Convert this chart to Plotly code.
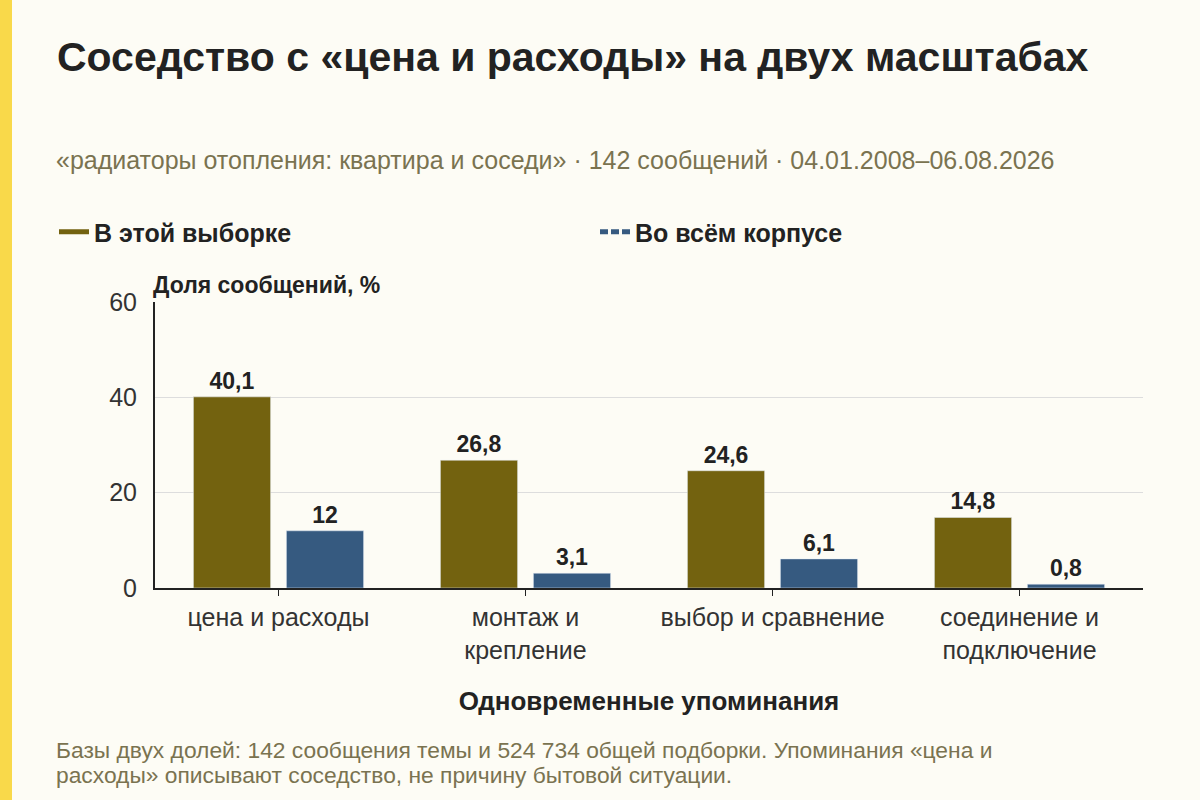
import plotly.graph_objects as go

# Data
categories = ["цена и расходы", "монтаж и<br>крепление", "выбор и сравнение", "соединение и<br>подключение"]
sample_share = [40.1, 26.8, 24.6, 14.8]
corpus_share = [12, 3.1, 6.1, 0.8]
y_ticks = [0, 20, 40, 60]

GOLD = "#73620f"
BLUE = "#365a80"
BG = "#fdfcf5"
INK = "#222222"
MUTED = "#7a7350"
FONT = "Liberation Sans, Arial, sans-serif"

W, H = 1200, 800
ML, MR, MT, MB = 155, 57, 302, 212
PW = W - ML - MR
PH = H - MT - MB


def px_x(px):
    # container pixel -> paper x
    return (px - ML) / PW


def px_y(py):
    # container pixel (from top) -> paper y
    return (H - MB - py) / PH


def fmt(v):
    return f"{v:g}".replace(".", ",")


fig = go.Figure()

fig.add_trace(go.Bar(
    x=categories, y=sample_share, name="В этой выборке",
    marker_color=GOLD, showlegend=False,
    text=[fmt(v) for v in sample_share], textposition="outside",
    textfont=dict(size=23, color=INK, family=FONT, weight="bold"),
    cliponaxis=False,
))
fig.add_trace(go.Bar(
    x=categories, y=corpus_share, name="Во всём корпусе",
    marker_color=BLUE, showlegend=False,
    text=[fmt(v) for v in corpus_share], textposition="outside",
    textfont=dict(size=23, color=INK, family=FONT, weight="bold"),
    cliponaxis=False,
))

# legend entries drawn as short lines
fig.add_trace(go.Scatter(x=[None], y=[None], mode="lines", name="В этой выборке",
                         line=dict(color=GOLD, width=5)))
fig.add_trace(go.Scatter(x=[None], y=[None], mode="lines", name="Во всём корпусе",
                         line=dict(color=BLUE, width=5, dash="8px,3px")))

fig.update_layout(
    width=W, height=H,
    margin=dict(l=ML, r=MR, t=MT, b=MB),
    paper_bgcolor=BG, plot_bgcolor=BG,
    font=dict(family=FONT, color=INK),
    barmode="group", bargap=0.247, bargroupgap=0.17,
    title=dict(
        text="<b>Соседство с «цена и расходы» на двух масштабах</b>",
        x=57 / W, xanchor="left", xref="container",
        y=1 - 57 / H, yanchor="middle", yref="container",
        font=dict(size=41, color=INK, family=FONT),
    ),
    legend=dict(
        orientation="h", x=px_x(54), xanchor="left",
        y=px_y(232), yanchor="middle",
        font=dict(size=25, color=INK, family=FONT, weight="bold"),
        entrywidth=496, bgcolor="rgba(0,0,0,0)",
    ),
    showlegend=True,
)

fig.update_xaxes(
    showline=True, linecolor=INK, linewidth=2,
    ticks="outside", ticklen=6, tickcolor=INK,
    tickfont=dict(size=25, color="#333333", family=FONT),
    title=dict(text="<b>Одновременные упоминания</b>", font=dict(size=26, color=INK), standoff=29),
    showgrid=False,
)
fig.update_yaxes(
    range=[0, 60], tickvals=y_ticks,
    showline=True, linecolor=INK, linewidth=2,
    showgrid=True, gridcolor="#dddddd", gridwidth=1,
    tickfont=dict(size=25, color="#333333", family=FONT),
    ticks="", ticklabelstandoff=11, zeroline=False,
)

annotations = [
    dict(text="«радиаторы отопления: квартира и соседи» · 142 сообщений · 04.01.2008–06.08.2026",
         x=px_x(54), y=px_y(160), font=dict(size=25, color=MUTED)),
    dict(text="<b>Доля сообщений, %</b>",
         x=px_x(151), y=px_y(285), font=dict(size=23, color=INK)),
    dict(text="Базы двух долей: 142 сообщения темы и 524 734 общей подборки. Упоминания «цена и",
         x=px_x(54), y=px_y(750), font=dict(size=22.8, color=MUTED)),
    dict(text="расходы» описывают соседство, не причину бытовой ситуации.",
         x=px_x(54), y=px_y(775), font=dict(size=22.8, color=MUTED)),
]
for a in annotations:
    a.update(xref="paper", yref="paper", showarrow=False, xanchor="left", yanchor="middle")
    fig.add_annotation(**a)

# yellow stripe on the left edge
fig.add_shape(type="rect", xref="paper", yref="paper",
              x0=px_x(0), x1=px_x(12), y0=px_y(H), y1=px_y(0),
              fillcolor="#f9d94a", line_width=0, layer="below")

fig.write_html("out.html", config={"displayModeBar": False},
               post_script="document.body.style.margin='0';")
